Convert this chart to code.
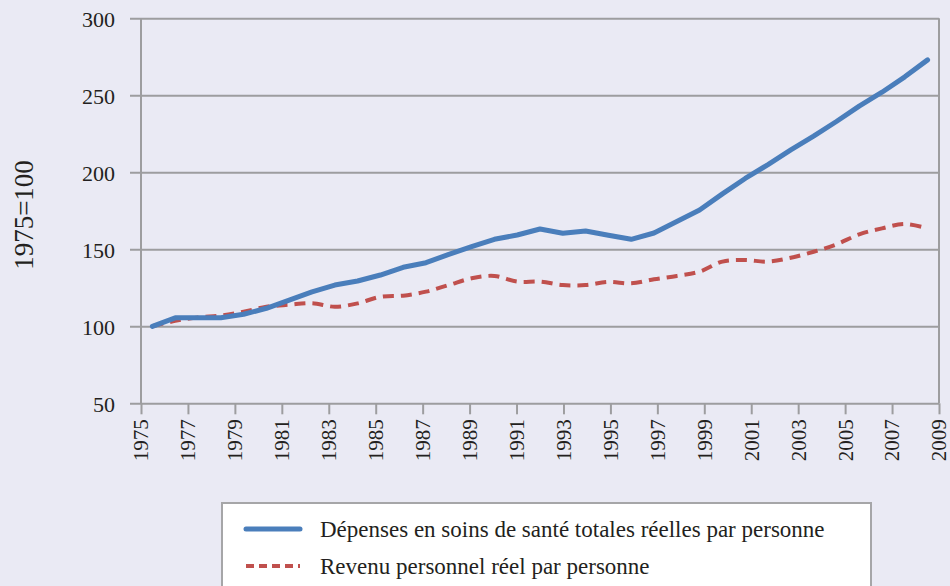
<!DOCTYPE html>
<html>
<head>
<meta charset="utf-8">
<script src="https://cdn.jsdelivr.net/npm/d3@7"></script>
<style>
  body { margin: 0; background: #eaeaf4; }
</style>
</head>
<body>
<div id="chart"></div>
<script>
// Years (one point per year)
const years = d3.range(1975, 2010);

// Real total health spending per person, 1975=100
const healthSpending = [
  100, 105.5, 105.5, 105.5, 107.8, 111.7, 117, 122.3, 126.8, 129.4,
  133.3, 138.3, 141.3, 146.7, 151.7, 156.5, 159.3, 163.2, 160.4, 161.9,
  159.1, 156.5, 160.6, 168, 175.5, 186, 196, 205, 214.5, 223.5,
  233, 243, 252, 262, 273
];

// Real personal income per person, 1975=100
const personalIncome = [
  100, 103.5, 105.8, 106.9, 109.5, 112.7, 114, 115, 112.7, 114.9,
  119.2, 119.9, 122.5, 126.8, 131.2, 132.7, 129, 129, 126.8, 126.8,
  128.8, 127.9, 130.5, 132.7, 135.5, 142, 143, 142, 144.5, 148.4,
  153.2, 159.7, 163.6, 166.4, 163.6
];

const yTicks = [50, 100, 150, 200, 250, 300];
const xTicks = d3.range(1975, 2010, 2);

const seriesNames = [
  "Dépenses en soins de santé totales réelles par personne",
  "Revenu personnel réel par personne"
];

const dimensions = {
  width: 950,
  height: 586,
  left: 141,
  right: 939,
  top: 18.3,
  bottom: 403.3,
};

const font = "'Liberation Serif', 'Times New Roman', 'DejaVu Serif', serif";
const textColor = "#231f20";
const blue = "#4a7ebb";
const red = "#c0504d";
const grid = "#9d9d9f";

const svg = d3
  .select("#chart")
  .append("svg")
  .attr("width", dimensions.width)
  .attr("height", dimensions.height)
  .style("font-family", font);

svg.append("rect")
  .attr("width", dimensions.width)
  .attr("height", dimensions.height)
  .attr("fill", "#eaeaf4");

const yScale = d3
  .scaleLinear()
  .domain([50, 300])
  .range([dimensions.bottom, dimensions.top]);

// points sit in the middle of each year slot
const xPoint = d3
  .scalePoint()
  .domain(years)
  .range([dimensions.left, dimensions.right])
  .padding(0.5);

// axis labels are spread evenly over the plot width
const xAxisScale = d3
  .scaleLinear()
  .domain([1975, 2009])
  .range([dimensions.left, dimensions.right]);

// gridlines + y axis
const yAxis = d3
  .axisLeft(yScale)
  .tickValues(yTicks)
  .tickSize(-(dimensions.right - dimensions.left))
  .tickFormat(d3.format("d"));

const yg = svg
  .append("g")
  .attr("transform", `translate(${dimensions.left}, 0)`)
  .call(yAxis)
  .attr("font-family", null);
yg.select(".domain").remove();
yg.selectAll(".tick line")
  .attr("stroke", grid)
  .attr("stroke-width", 2)
  .attr("x1", -11);
yg.selectAll(".tick text")
  .attr("x", -26)
  .attr("dy", "0.35em")
  .attr("fill", textColor)
  .style("font-family", font)
  .style("font-size", "22px");

// left and right borders
svg.append("line")
  .attr("x1", dimensions.left).attr("x2", dimensions.left)
  .attr("y1", dimensions.top).attr("y2", dimensions.bottom)
  .attr("stroke", grid).attr("stroke-width", 2);
svg.append("line")
  .attr("x1", dimensions.right).attr("x2", dimensions.right)
  .attr("y1", dimensions.top).attr("y2", dimensions.bottom)
  .attr("stroke", grid).attr("stroke-width", 2);

// x axis
const xAxis = d3
  .axisBottom(xAxisScale)
  .tickValues(xTicks)
  .tickSize(11)
  .tickFormat(d3.format("d"));

const xg = svg
  .append("g")
  .attr("transform", `translate(0, ${dimensions.bottom})`)
  .call(xAxis)
  .attr("font-family", null);
xg.select(".domain").remove();
xg.selectAll(".tick line").attr("stroke", grid).attr("stroke-width", 2);
xg.selectAll(".tick text")
  .attr("transform", "rotate(-90)")
  .attr("text-anchor", "end")
  .attr("x", -16)
  .attr("y", 0)
  .attr("dy", "0.33em")
  .attr("fill", textColor)
  .style("font-family", font)
  .style("font-size", "21px");

// y axis title
svg.append("text")
  .attr("transform", "translate(33, 215) rotate(-90)")
  .attr("text-anchor", "middle")
  .attr("fill", textColor)
  .style("font-family", font)
  .style("font-size", "27px")
  .text("1975=100");

// lines
const lineGenerator = d3
  .line()
  .x((d, i) => xPoint(years[i]))
  .y((d) => yScale(d));

svg.append("path")
  .datum(personalIncome)
  .attr("d", lineGenerator.curve(d3.curveCatmullRom.alpha(0.5)))
  .attr("fill", "none")
  .attr("stroke", red)
  .attr("stroke-width", 4)
  .attr("stroke-dasharray", "11,7");

svg.append("path")
  .datum(healthSpending)
  .attr("d", lineGenerator.curve(d3.curveLinear))
  .attr("fill", "none")
  .attr("stroke", blue)
  .attr("stroke-width", 5)
  .attr("stroke-linejoin", "round")
  .attr("stroke-linecap", "round");

// legend
const legend = svg.append("g");
legend.append("rect")
  .attr("x", 222).attr("y", 503)
  .attr("width", 649).attr("height", 120)
  .attr("fill", "#ffffff")
  .attr("stroke", "#a6a6a8")
  .attr("stroke-width", 2);

const legendRows = [
  { name: seriesNames[0], color: blue, width: 5, dash: null, y: 529 },
  { name: seriesNames[1], color: red, width: 4, dash: "8,5", y: 566 },
];

legendRows.forEach((row) => {
  legend.append("line")
    .attr("x1", 246).attr("x2", 300)
    .attr("y1", row.y).attr("y2", row.y)
    .attr("stroke", row.color)
    .attr("stroke-width", row.width)
    .attr("stroke-linecap", row.dash ? "butt" : "round")
    .attr("stroke-dasharray", row.dash);
  legend.append("text")
    .attr("x", 320)
    .attr("y", row.y + 8)
    .attr("fill", textColor)
    .style("font-family", font)
    .style("font-size", "23px")
    .text(row.name);
});
</script>
</body>
</html>
